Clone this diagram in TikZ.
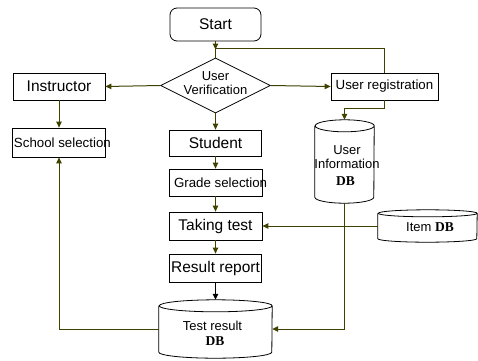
\documentclass[tikz,border=0pt]{standalone}
\usepackage{fontspec}
\setmainfont{Liberation Sans}
\newfontfamily\dbfont{Liberation Serif}
\usetikzlibrary{shapes.geometric,arrows.meta}
\definecolor{olive}{RGB}{64,64,0}
\tikzset{
  box/.style={draw=black,line width=0.8pt,fill=white,inner sep=0pt},
  lbl/.style={inner sep=0pt,align=center,font=\fontsize{13}{14.5}\selectfont},
  big/.style={font=\fontsize{15.5}{17}\selectfont},
  mid/.style={font=\fontsize{13.3}{15}\selectfont},
  ghost/.style={inner sep=0pt,draw=none},
  conn/.style={draw=olive,line width=1pt},
  arr/.style={conn,-{Triangle[length=6pt,width=5.5pt]}},
  barr/.style={draw=black,line width=1pt,-{Triangle[length=6pt,width=5.5pt]}},
}
\newcommand\cylshape[3]{%
  \draw[box] ([yshift=-#3]#1.north west) -- ([yshift=#3]#1.south west)
    arc[start angle=180,end angle=360,x radius=#2,y radius=#3]
    -- ([yshift=-#3]#1.north east)
    arc[start angle=0,end angle=180,x radius=#2,y radius=#3]
    arc[start angle=180,end angle=360,x radius=#2,y radius=#3];}
\begin{document}
\begin{tikzpicture}[x=1pt,y=1pt]
\useasboundingbox (0,0) rectangle (478,360);
% nodes
\node[box,rounded corners=7pt,minimum width=91pt,minimum height=33pt,big] (start) at (215.5,335.5) {Start};
\node[box,diamond,minimum width=110pt,minimum height=55pt] (ver) at (215.5,274.5) {};
\node[lbl] (vert) at (215.5,277) {User\\Verification};
\node[box,minimum width=92pt,minimum height=27pt,big] (inst) at (59,273.5) {Instructor};
\node[box,minimum width=93pt,minimum height=29pt,mid] (school) at (59,217.5) {\makebox[93pt][l]{\hspace{1.5pt}School selection}};
\node[box,minimum width=107pt,minimum height=27pt,mid] (reg) at (384.5,273.5) {User registration};
\node[box,minimum width=92pt,minimum height=26pt,big] (stud) at (215.5,217) {Student};
\node[box,minimum width=93pt,minimum height=27pt,mid] (grade) at (215.5,177.5) {\makebox[93pt][l]{\hspace{5pt}Grade selection}};
\node[box,minimum width=93pt,minimum height=28pt,big] (take) at (215.5,134) {Taking test};
\node[box,minimum width=92pt,minimum height=28pt,big] (res) at (215.5,92) {Result report};
% cylinders
\node[ghost,minimum width=113pt,minimum height=58pt] (tdb) at (215.5,31) {};
\cylshape{tdb}{56.5pt}{6pt}
\node[lbl] (tdbt) at (212.5,34.5) {Test result};
\node[lbl,font=\dbfont\bfseries\fontsize{13.5}{15}\selectfont] (tdbd) at (215,18.5) {DB};
\node[ghost,minimum width=59pt,minimum height=83pt] (ui) at (344.5,198.5) {};
\cylshape{ui}{29.5pt}{6pt}
\node[lbl] (uit) at (347,203) {User\\Information};
\node[lbl,font=\dbfont\bfseries\fontsize{13.5}{15}\selectfont] (uid) at (345.5,178.5) {DB};
\node[ghost,minimum width=99pt,minimum height=32pt] (idb) at (427.5,134) {};
\cylshape{idb}{49.5pt}{3.5pt}
\node[lbl] (idbt) at (430,132.5) {Item {\dbfont\bfseries\fontsize{13.5}{15}\selectfont DB}};
% connectors
\coordinate (jn) at (215.5,312);
\coordinate (tip) at (215.5,310.5);
\draw[arr] (start.south) -- (tip);
\draw[conn] (reg.north) |- (jn) -- (ver.north);
\draw[arr] (ver.west) -- (inst.east);
\draw[arr] (ver.east) -- (reg.west);
\draw[arr] (ver.south) -- (stud.north);
\draw[arr] (inst.south) -- (school.north);
\draw[arr] (stud.south) -- (grade.north);
\draw[arr] (grade.south) -- (take.north);
\draw[arr] (take.south) -- (res.north);
\draw[barr] (res.south) -- (tdb.north);
\draw[arr] (reg.south) -- ++(0,-8) -| (ui.north);
\draw[arr] (ui.south) |- (tdb.east);
\draw[arr] (idb.west) -- (take.east);
\draw[arr] (tdb.west) -| (school.south);
\end{tikzpicture}
\end{document}
